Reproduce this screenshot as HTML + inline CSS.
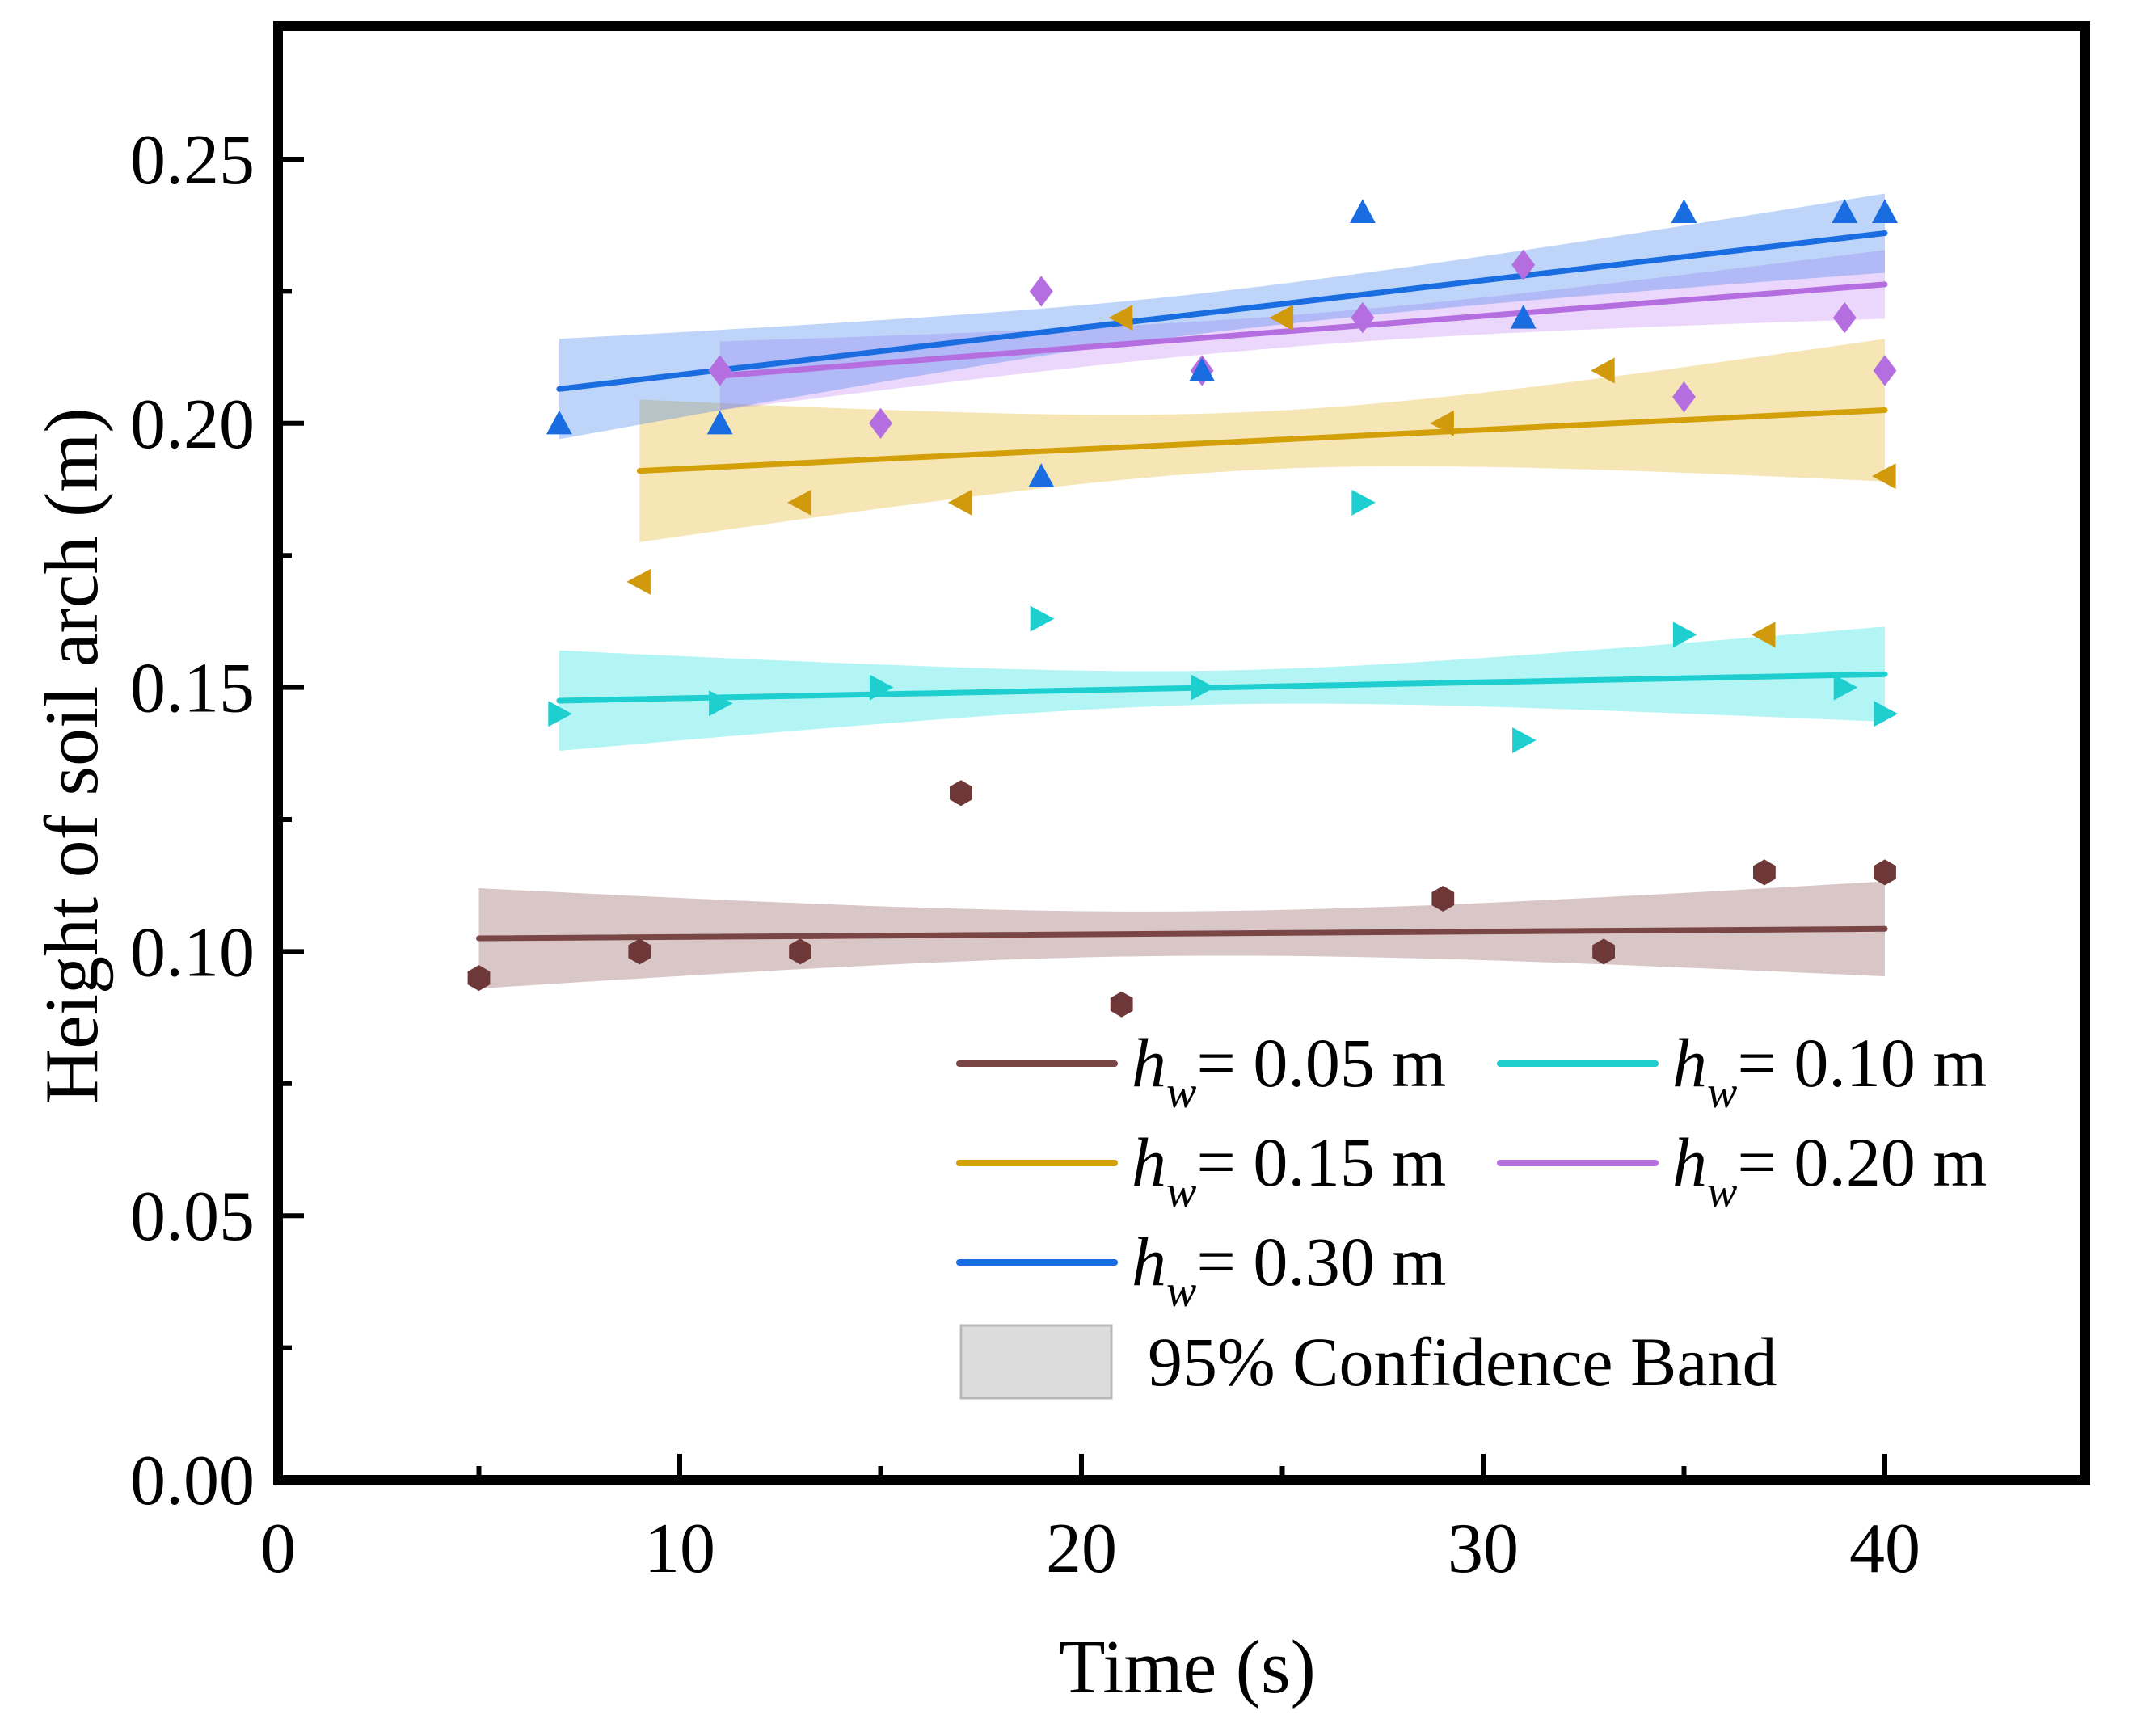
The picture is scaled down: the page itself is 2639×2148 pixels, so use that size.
<!DOCTYPE html>
<html><head><meta charset="utf-8">
<style>
html,body{margin:0;padding:0;background:#fff;}
svg{display:block;font-family:"Liberation Serif",serif;}
</style></head>
<body>
<svg id="chart" width="2639" height="2148" viewBox="0 0 2639 2148" xmlns="http://www.w3.org/2000/svg">
<g id="bands"></g>
<g id="fits"></g>
<g id="points"></g>
<g id="axes"></g>
<g id="legend"></g>
</svg>
<script>
// ---- data ----
const seriesNames = ["hw=0.05","hw=0.10","hw=0.15","hw=0.20","hw=0.30"];
const legendLabels = ["0.05","0.10","0.15","0.20","0.30"];
const x005 = [5,9,13,17,21,29,33,37,40];
const y005 = [0.095,0.10,0.10,0.13,0.09,0.11,0.10,0.115,0.115];
const x010 = [7,11,15,19,23,27,31,35,39,40];
const y010 = [0.145,0.147,0.15,0.163,0.15,0.185,0.14,0.16,0.15,0.145];
const x015 = [9,13,17,21,25,29,33,37,40];
const y015 = [0.17,0.185,0.185,0.22,0.22,0.20,0.21,0.16,0.19];
const x020 = [11,15,19,23,27,31,35,39,40];
const y020 = [0.21,0.20,0.225,0.21,0.22,0.23,0.205,0.22,0.21];
const x030 = [7,11,19,23,27,31,35,39,40];
const y030 = [0.20,0.20,0.19,0.21,0.24,0.22,0.24,0.24,0.24];
// fitted line: start x, end x, value at start, value at end
const fitX0 = [5,7,9,11,7];
const fitX1 = [40,40,40,40,40];
const fitY0 = [0.1025,0.1475,0.191,0.209,0.2065];
const fitY1 = [0.1043,0.1525,0.2025,0.2263,0.236];
// 95% band half-widths: at start, middle, end
const bandStart = [0.0095,0.0095,0.0135,0.0065,0.0095];
const bandMid = [0.0042,0.0032,0.0055,0.003,0.0038];
const bandEnd = [0.009,0.009,0.0135,0.0065,0.0075];
const xTicks = [0,10,20,30,40];
const yTicks = [0,0.05,0.10,0.15,0.20,0.25];
const yTickLabels = ["0.00","0.05","0.10","0.15","0.20","0.25"];

const xs = [x005,x010,x015,x020,x030];
const ys = [y005,y010,y015,y020,y030];
const lineColors = ["#7a4545","#1fcfcf","#d4a00a","#b46ee0","#1a6de0"];
const bandColors = ["rgba(130,70,70,0.30)","rgba(20,225,225,0.32)","rgba(232,190,60,0.38)","rgba(195,130,245,0.32)","rgba(40,115,235,0.30)"];
const markerColors = ["#6e3838","#1fcfcf","#d09a0c","#b46ee0","#1a6de0"];
const markerShapes = ["hex","right","left","diamond","up"];

// ---- axes ----
const L=344, R=2580, T=32, B=1831;
const X0=344, XS=(2332-344)/40;
const Y0=1831, YS=(1831-197)/0.25;
const sx = v => X0 + v*XS;
const sy = v => Y0 - v*YS;
const NS="http://www.w3.org/2000/svg";
function mk(tag, attrs, parent){const e=document.createElementNS(NS,tag);for(const k in attrs)e.setAttribute(k,attrs[k]);parent.appendChild(e);return e;}

const gB=document.getElementById('bands'), gF=document.getElementById('fits'), gP=document.getElementById('points'), gA=document.getElementById('axes'), gL=document.getElementById('legend');

for(let s=0;s<5;s++){
  const a=fitX0[s], b=fitX1[s], m=(a+b)/2;
  const half = x => { const t=(x-m)/(b-m); const he = x<m?bandStart[s]:bandEnd[s]; return Math.sqrt(bandMid[s]*bandMid[s] + (he*he-bandMid[s]*bandMid[s])*t*t); };
  const fit = x => fitY0[s] + (fitY1[s]-fitY0[s])*(x-a)/(b-a);
  let up=[], lo=[];
  for(let i=0;i<=40;i++){const x=a+(b-a)*i/40; up.push(sx(x).toFixed(1)+","+sy(fit(x)+half(x)).toFixed(1)); lo.push(sx(x).toFixed(1)+","+sy(fit(x)-half(x)).toFixed(1));}
  const band=mk('polygon',{points:up.concat(lo.reverse()).join(" "),fill:bandColors[s]},gB);
  
  
  const ln=mk('line',{x1:sx(a),y1:sy(fitY0[s]),x2:sx(b),y2:sy(fitY1[s]),stroke:lineColors[s],'stroke-width':7,'stroke-linecap':'round'},gF);
  
  
  for(let i=0;i<xs[s].length;i++){
    const cx=sx(xs[s][i]), cy=sy(ys[s][i]), r=16; let p;
    const sh=markerShapes[s];
    if(sh==="hex"){let pts=[];for(let k=0;k<6;k++){const an=Math.PI/6+k*Math.PI/3;pts.push((cx+r*Math.cos(an)).toFixed(1)+","+(cy+r*Math.sin(an)).toFixed(1));}p=pts.join(" ");}
    else if(sh==="up") p=`${cx},${cy-r} ${cx+r},${cy+r*0.85} ${cx-r},${cy+r*0.85}`;
    else if(sh==="right") p=`${cx+r},${cy} ${cx-r*0.85},${cy-r} ${cx-r*0.85},${cy+r}`;
    else if(sh==="left") p=`${cx-r},${cy} ${cx+r*0.85},${cy-r} ${cx+r*0.85},${cy+r}`;
    else p=`${cx},${cy-r*1.2} ${cx+r*0.9},${cy} ${cx},${cy+r*1.2} ${cx-r*0.9},${cy}`;
    const pt=mk('polygon',{points:p,fill:markerColors[s]},gP);
    
    
  }
}

// frame
const fr=mk('rect',{x:L,y:T,width:R-L,height:B-T,fill:'none',stroke:'#000','stroke-width':12},gA);


// x ticks
for(let v=5;v<=40;v+=5){
  const major = v%10===0;
  mk('line',{x1:sx(v),x2:sx(v),y1:B,y2:B-(major?32:17),stroke:'#000','stroke-width':6},gA);
}
xTicks.forEach(v=>{
  const t=mk('text',{x:sx(v),y:1945,'text-anchor':'middle','font-size':88,fill:'#000'},gA);
  t.textContent=v;
  
  
});
// y ticks
for(let k=1;k<=10;k++){
  const v=k*0.025, major=k%2===0;
  mk('line',{x1:L,x2:L+(major?32:17),y1:sy(v),y2:sy(v),stroke:'#000','stroke-width':6},gA);
}
yTicks.forEach((v,i)=>{
  const t=mk('text',{x:315,y:sy(v)+30,'text-anchor':'end','font-size':88,fill:'#000'},gA);
  t.textContent=yTickLabels[i];
  
  
});
const xt=mk('text',{x:1469,y:2094,'text-anchor':'middle','font-size':94,fill:'#000'},gA);
xt.textContent="Time (s)";


const yt=mk('text',{x:0,y:0,'text-anchor':'middle','font-size':94,fill:'#000',transform:'translate(120,935) rotate(-90)'},gA);
yt.textContent="Height of soil arch (m)";



// legend
const legPos=[[1187,1316],[1856,1316],[1187,1439],[1856,1439],[1187,1562]];
for(let s=0;s<5;s++){
  const [lx,ly]=legPos[s];
  const g=mk('g',{},gL);
  
  
  mk('line',{x1:lx,x2:lx+192,y1:ly,y2:ly,stroke:lineColors[s],'stroke-width':8,'stroke-linecap':'round'},g);
  const t=mk('text',{x:lx+213,y:ly+28,'font-size':86,fill:'#000'},g);
  const h=mk('tspan',{'font-style':'italic'},t); h.textContent='h';
  const w=mk('tspan',{'font-style':'italic','font-size':56,dy:26},t); w.textContent='w';
  const r=mk('tspan',{dy:-26},t); r.textContent='= '+legendLabels[s]+' m';
}
const gb=mk('g',{},gL);


mk('rect',{x:1189,y:1640,width:186,height:90,fill:'#dcdcdc',stroke:'#b8b8b8','stroke-width':3},gb);
const bt=mk('text',{x:1420,y:1714,'font-size':86,fill:'#000'},gb);
bt.textContent="95% Confidence Band";
</script>
</body></html>
